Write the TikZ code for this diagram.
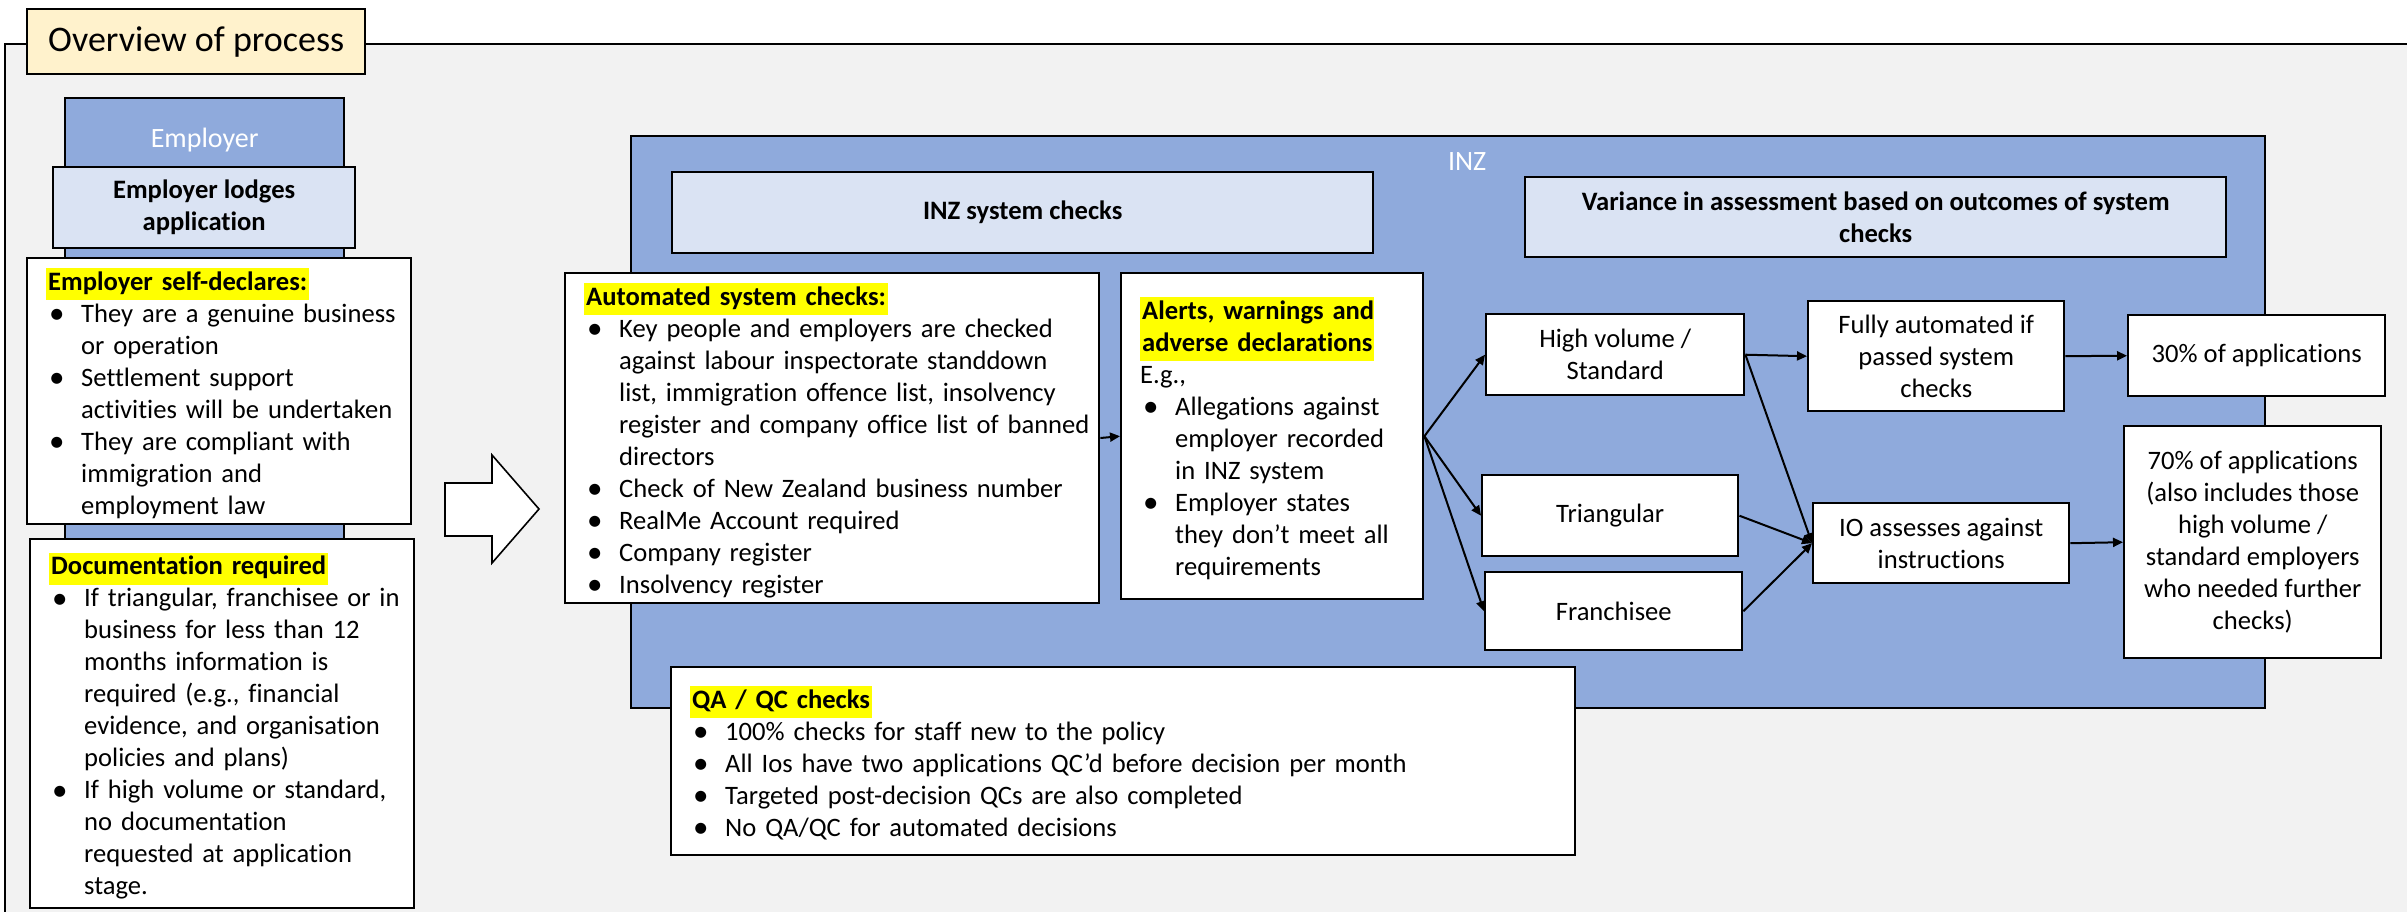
\documentclass[tikz,border=0pt]{standalone}
\usepackage{fontspec}
\setmainfont{Carlito}[Ligatures=NoCommon]
\usetikzlibrary{arrows.meta}
\definecolor{bgray}{HTML}{F2F2F2}
\definecolor{midblue}{HTML}{8FAADC}
\definecolor{paleblue}{HTML}{DAE3F3}
\definecolor{titlefill}{HTML}{FFF2CC}
\definecolor{hlyellow}{HTML}{FFFF00}
\setlength{\fboxsep}{0pt}
\newcommand\hlt[1]{\colorbox{hlyellow}{\strut\hspace{1pt}\textbf{#1}\hspace{1pt}}}
\newcommand\hd[1]{\par\noindent\hlt{#1}}
\newcommand\bul{\raisebox{-0.6pt}{\fontsize{15.5}{16}\selectfont\textbullet}}
\newcommand\bl[1]{\par\noindent\strut\makebox[17.5pt][l]{\hspace{1.5pt}\bul}\mbox{#1}}
\newcommand\cl[1]{\par\noindent\strut\hspace*{17.5pt}\mbox{#1}}
\newcommand\pl[1]{\par\noindent\strut\mbox{#1}}
\tikzset{
  bx/.style={draw, line width=1.2pt, inner sep=0pt, anchor=north west},
  listbox/.style={bx, fill=white, inner xsep=9.5pt, inner ysep=0pt, align=left},
  cbox/.style={bx, fill=white, align=center},
  hdrbox/.style={bx, fill=paleblue, align=center, font=\fontsize{13.3}{16}\selectfont\bfseries},
  conn/.style={line width=1pt, -{Triangle[length=5pt,width=4.5pt]}},
  biglabel/.style={text=white, font=\fontsize{14}{17}\selectfont},
}
\begin{document}
\begin{tikzpicture}[x=0.5pt,y=-0.5pt, every node/.style={font=\fontsize{13.3}{16}\selectfont}]
\useasboundingbox (0,0) rectangle (2407,911);
\clip (0,0) rectangle (2407,911);
\fill[white] (0,0) rectangle (2407,911);
\draw[fill=bgray, line width=1pt] (4.6,44) rectangle (2600,1100);

% title
\node[bx, fill=titlefill, minimum width=169pt, minimum height=32.5pt, font=\fontsize{18}{22}\selectfont] (title) at (26,8) {Overview of process};

% employer column
\node[bx, fill=midblue, minimum width=139.5pt, minimum height=301.5pt] (employer) at (64,97) {};
\node[biglabel] (employerlabel) at ([yshift=-21.5pt]employer.north) {Employer};
\node[hdrbox, minimum width=151pt, minimum height=40.5pt] (lodges) at (52,166) {Employer lodges\\application};

\node[listbox, text width=173pt, minimum height=131pt] (selfdecl) at (26,257) {%
\hd{Employer self-declares:}%
\bl{They are a genuine business}\cl{or operation}%
\bl{Settlement support}\cl{activities will be undertaken}%
\bl{They are compliant with}\cl{immigration and}\cl{employment law}};

\node[listbox, text width=173pt, minimum height=184.5pt] (docreq) at (29,538) {%
\hd{Documentation required}%
\bl{If triangular, franchisee or in}\cl{business for less than 12}\cl{months information is}\cl{required (e.g., financial}\cl{evidence, and organisation}\cl{policies and plans)}%
\bl{If high volume or standard,}\cl{no documentation}\cl{requested at application}\cl{stage.}};

% big arrow
\draw[fill=white, line width=0.8pt] (445,483) -- (492,483) -- (492,455) -- (539,509) -- (492,563) -- (492,536) -- (445,536) -- cycle;

% INZ
\node[bx, fill=midblue, minimum width=817pt, minimum height=286pt] (inz) at (630,135) {};
\node[biglabel] (inzlabel) at ([xshift=9.5pt,yshift=-13.5pt]inz.north) {INZ};
\node[hdrbox, minimum width=350.5pt, minimum height=40.5pt] (inzsys) at (671,171) {INZ system checks};
\node[hdrbox, minimum width=350.5pt, minimum height=40pt] (variance) at (1524,176) {Variance in assessment based on outcomes of system\\checks};

\node[listbox, text width=248pt, minimum height=163pt] (autochk) at (564,272) {%
\hd{Automated system checks:}%
\bl{Key people and employers are checked}\cl{against labour inspectorate standdown}\cl{list, immigration offence list, insolvency}\cl{register and company office list of banned}\cl{directors}%
\bl{Check of New Zealand business number}%
\bl{RealMe Account required}%
\bl{Company register}%
\bl{Insolvency register}};

\node[listbox, text width=132pt, minimum height=163pt] (alerts) at (1120,272) {%
\par\noindent\hlt{\makebox[115pt][l]{Alerts, warnings and}}%
\par\noindent\hlt{\makebox[115pt][l]{adverse declarations}}%
\pl{E.g.,}%
\bl{Allegations against}\cl{employer recorded}\cl{in INZ system}%
\bl{Employer states}\cl{they don’t meet all}\cl{requirements}};

\node[cbox, minimum width=129pt, minimum height=40.5pt] (hv) at (1485,313) {High volume /\\Standard};
\node[cbox, minimum width=128pt, minimum height=40.5pt] (tri) at (1481,474) {Triangular};
\node[cbox, minimum width=128.5pt, minimum height=39pt] (fr) at (1484,571) {Franchisee};
\node[cbox, minimum width=128pt, minimum height=55pt] (fully) at (1807,300) {Fully automated if\\passed system\\checks};
\node[cbox, minimum width=128.5pt, minimum height=40.5pt] (p30) at (2127,314) {30\% of applications};
\node[cbox, minimum width=128pt, minimum height=40pt] (io) at (1812,502) {IO assesses against\\instructions};
\node[cbox, minimum width=128.5pt, minimum height=116pt] (p70) at (2123,425) {70\% of applications\\(also includes those\\high volume /\\standard employers\\who needed further\\checks)};

\node[listbox, text width=433pt, minimum height=94pt] (qa) at (670,666) {%
\hd{QA / QC checks}%
\bl{100\% checks for staff new to the policy}%
\bl{All Ios have two applications QC’d before decision per month}%
\bl{Targeted post-decision QCs are also completed}%
\bl{No QA/QC for automated decisions}};

% connectors
\draw[conn] (autochk.east) -- (alerts.west);
\draw[conn] (alerts.east) -- (hv.west);
\draw[conn] (alerts.east) -- (tri.west);
\draw[conn] (alerts.east) -- (fr.west);
\draw[conn] (hv.east) -- (fully.west);
\draw[conn] (fully.east) -- (p30.west);
\draw[conn] (hv.east) -- (io.west);
\draw[conn] (tri.east) -- (io.west);
\draw[conn] (fr.east) -- (io.west);
\draw[conn] (io.east) -- (p70.west);
\end{tikzpicture}
\end{document}
